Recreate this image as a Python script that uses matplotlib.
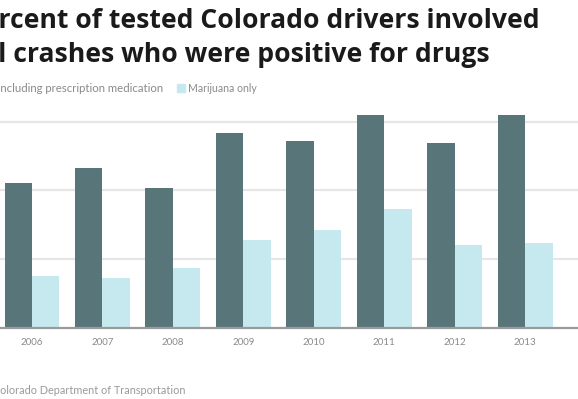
import matplotlib
matplotlib.use("Agg")
import matplotlib.pyplot as plt
from matplotlib.patches import Rectangle
import numpy as np

years = ["2006", "2007", "2008", "2009", "2010", "2011", "2012", "2013"]
all_drugs = [21.1, 23.3, 20.4, 28.3, 27.2, 31.0, 26.9, 31.0]
marijuana = [7.6, 7.2, 8.7, 12.8, 14.2, 17.3, 12.1, 12.4]

dark = "#587679"
light = "#c6e8ef"
W, H = 578, 399

fig = plt.figure(figsize=(W / 100, H / 100), dpi=100)
ax = fig.add_axes([0, (H - 328) / H, 1, 228 / H])

x = np.arange(len(years))
bw = 0.39
ax.bar(x - bw / 2, all_drugs, bw, color=dark, zorder=3)
ax.bar(x + bw / 2, marijuana, bw, color=light, zorder=3)

ax.set_xlim(-0.454, 7.752)
ax.set_ylim(0, 33.14)
ax.set_yticks([10, 20, 30])
ax.yaxis.grid(True, color="#e6e6e6", lw=1.6, zorder=0)
ax.tick_params(axis="y", left=False, labelleft=False)
ax.set_xticks(x)
ax.set_xticklabels(years, fontsize=7, color="#8a8a8a", family="Lato")
ax.tick_params(axis="x", length=0, pad=7)
for s in ["top", "right", "left"]:
    ax.spines[s].set_visible(False)
ax.spines["bottom"].set_color("#9a9a9a")
ax.spines["bottom"].set_linewidth(1.6)
ax.spines["bottom"].set_zorder(4)


def fx(px):
    return px / W


def fy(py):
    return 1 - py / H


title_kw = dict(fontsize=19.1, fontweight="bold", color="#1a1a1a",
                family="Open Sans", ha="right", va="baseline")
fig.text(fx(540), fy(28), "Percent of tested Colorado drivers involved", **title_kw)
fig.text(fx(490), fy(62), "in fatal crashes who were positive for drugs", **title_kw)

fig.text(fx(163), fy(88), "All drugs including prescription medication",
         fontsize=8.2, color="#8a8a8a", family="Lato", ha="right", va="center")
fig.patches.append(Rectangle((fx(177), fy(92)), fx(8), 8 / H,
                             transform=fig.transFigure, color=light))
fig.text(fx(188), fy(88), "Marijuana only", fontsize=7.6, color="#8a8a8a",
         family="Lato", ha="left", va="center")

fig.text(fx(186), fy(391), "Source: Colorado Department of Transportation",
         fontsize=7.8, color="#9a9a9a", family="Lato", ha="right", va="center")

fig.savefig("out.png", dpi=100)
